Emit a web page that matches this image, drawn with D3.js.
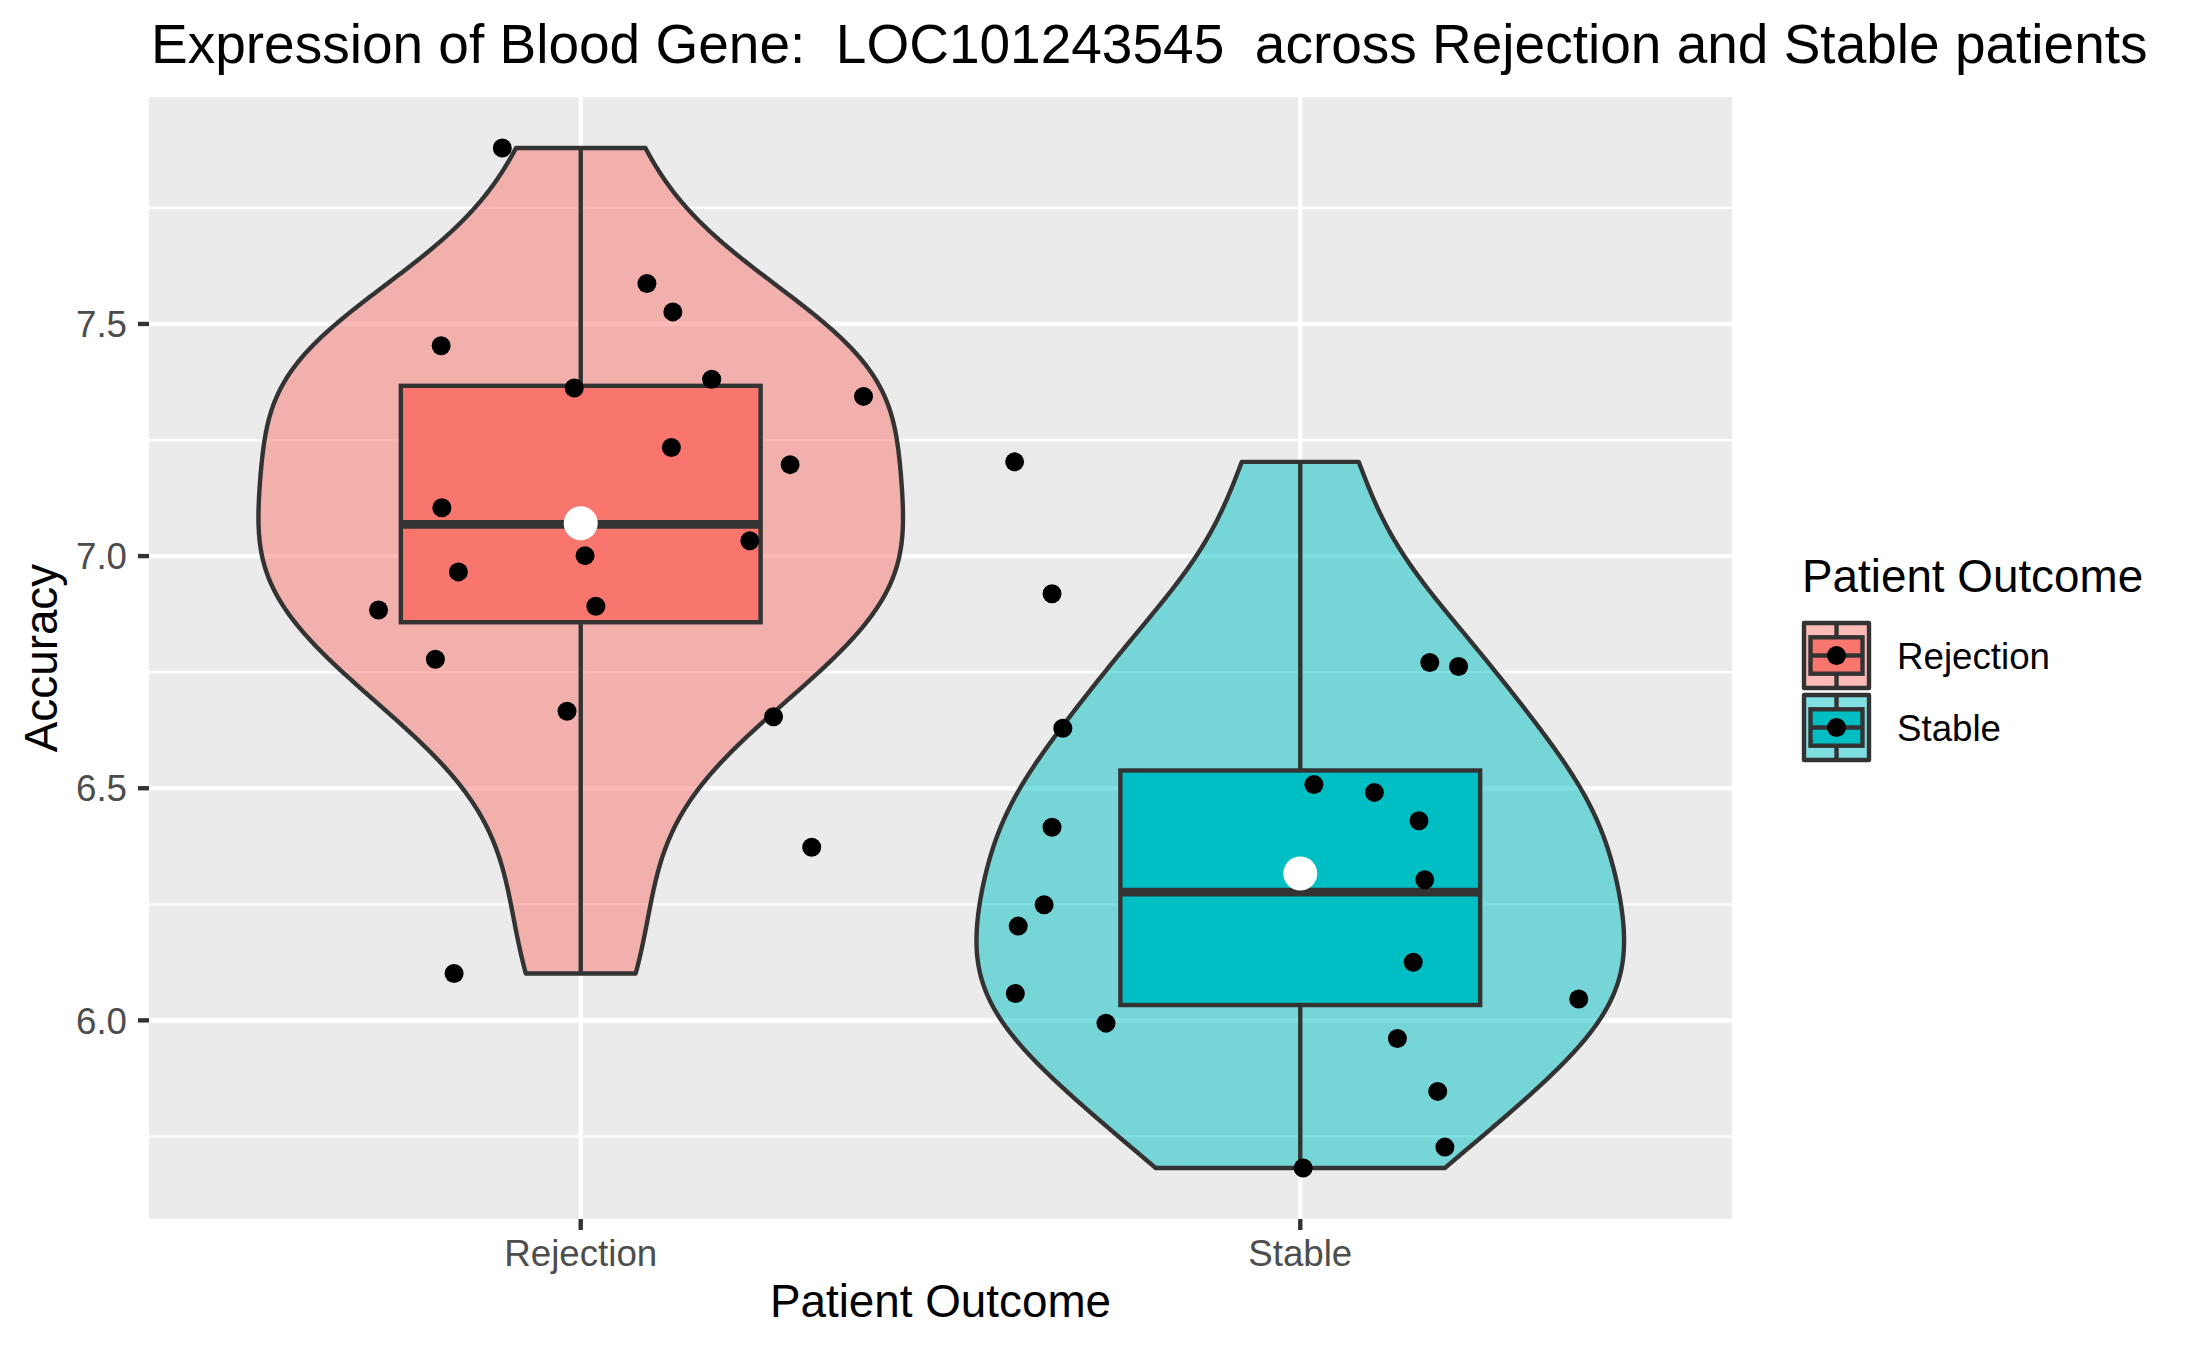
<!DOCTYPE html>
<html>
<head>
<meta charset="utf-8">
<script src="https://cdn.jsdelivr.net/npm/d3@7"></script>
<style>
  body { margin: 0; background: #fff; }
  text { font-family: "Liberation Sans", Arial, Helvetica, sans-serif; }
</style>
</head>
<body>
<svg id="chart" width="2187" height="1351"></svg>
<script>
const categories = ["Rejection", "Stable"]
const fills = ["#F8766D", "#00BFC4"]

// expression values
const rejectionValues = [7.879, 7.587, 7.526, 7.453, 7.362, 7.381, 7.344, 7.234, 7.197, 7.104,
  7.033, 7.001, 6.966, 6.892, 6.884, 6.778, 6.666, 6.654, 6.373, 6.101]
const stableValues = [7.203, 6.919, 6.771, 6.762, 6.629, 6.508, 6.491, 6.430, 6.416, 6.303,
  6.249, 6.203, 6.125, 6.058, 6.046, 5.994, 5.961, 5.847, 5.727, 5.682]

// horizontal jitter of each point (in category units)
const rejectionJitter = [-0.109, 0.092, 0.128, -0.194, -0.009, 0.182, 0.393, 0.126, 0.291, -0.193,
  0.235, 0.006, -0.170, 0.021, -0.281, -0.202, -0.019, 0.268, 0.321, -0.176]
const stableJitter = [-0.397, -0.345, 0.180, 0.220, -0.330, 0.019, 0.103, 0.165, -0.345, 0.173,
  -0.356, -0.392, 0.157, -0.396, 0.387, -0.270, 0.135, 0.191, 0.201, 0.004]

const yTicks = [6.0, 6.5, 7.0, 7.5]
const yMinorTicks = [5.75, 6.25, 6.75, 7.25, 7.75]

const groups = [
  { name: categories[0], values: rejectionValues, jitter: rejectionJitter, fill: fills[0] },
  { name: categories[1], values: stableValues, jitter: stableJitter, fill: fills[1] },
]

const svg = d3.select("#chart")
const panel = { left: 149, right: 1732, top: 97, bottom: 1219 }
const lw = 4.4 // ggplot linewidth 0.5 at 300 dpi
const dark = "#333333"

const allValues = groups.flatMap((g) => g.values)
const [vmin, vmax] = d3.extent(allValues)
const pad = (vmax - vmin) * 0.05

const x = d3.scalePoint().domain(categories).range([panel.left, panel.right]).padding(0.6)
const y = d3.scaleLinear().domain([vmin - pad, vmax + pad]).range([panel.bottom, panel.top])
const unit = x.step()

// panel + grid
svg.append("rect")
  .attr("x", panel.left).attr("y", panel.top)
  .attr("width", panel.right - panel.left).attr("height", panel.bottom - panel.top)
  .attr("fill", "#EBEBEB")

svg.selectAll(".minor").data(yMinorTicks).join("line")
  .attr("x1", panel.left).attr("x2", panel.right)
  .attr("y1", (d) => y(d)).attr("y2", (d) => y(d))
  .attr("stroke", "#fff").attr("stroke-width", lw / 2)
svg.selectAll(".major").data(yTicks).join("line")
  .attr("x1", panel.left).attr("x2", panel.right)
  .attr("y1", (d) => y(d)).attr("y2", (d) => y(d))
  .attr("stroke", "#fff").attr("stroke-width", lw)
svg.selectAll(".vmajor").data(categories).join("line")
  .attr("x1", (d) => x(d)).attr("x2", (d) => x(d))
  .attr("y1", panel.top).attr("y2", panel.bottom)
  .attr("stroke", "#fff").attr("stroke-width", lw)

// violin densities (gaussian kernel, bw.nrd0, trimmed to data range)
const bwNrd0 = (v) => {
  const s = v.slice().sort(d3.ascending)
  const iqr = d3.quantileSorted(s, 0.75) - d3.quantileSorted(s, 0.25)
  return 0.9 * Math.min(d3.deviation(s), iqr / 1.34) * Math.pow(s.length, -0.2)
}
groups.forEach((g) => {
  const bw = bwNrd0(g.values)
  const [lo, hi] = d3.extent(g.values)
  g.density = d3.range(512).map((i) => {
    const t = lo + (hi - lo) * i / 511
    const dens = d3.sum(g.values, (v) => Math.exp(-0.5 * ((t - v) / bw) ** 2)) /
      (g.values.length * bw * Math.sqrt(2 * Math.PI))
    return [t, dens]
  })
})
const maxDensity = d3.max(groups, (g) => d3.max(g.density, (d) => d[1]))

groups.forEach((g) => {
  const cx = x(g.name)
  const half = (d) => (d / maxDensity) * 0.45 * unit
  const pts = [
    ...g.density.map(([t, d]) => [cx - half(d), y(t)]),
    ...g.density.slice().reverse().map(([t, d]) => [cx + half(d), y(t)]),
  ]
  svg.append("path")
    .attr("d", d3.line()(pts) + "Z")
    .attr("fill", g.fill).attr("fill-opacity", 0.5)
    .attr("stroke", dark).attr("stroke-width", lw).attr("stroke-linejoin", "round")
})

// boxplots
groups.forEach((g) => {
  const cx = x(g.name)
  const s = g.values.slice().sort(d3.ascending)
  const q1 = d3.quantileSorted(s, 0.25), q3 = d3.quantileSorted(s, 0.75)
  const med = d3.quantileSorted(s, 0.5)
  const iqr = q3 - q1
  const lowW = d3.min(s.filter((v) => v >= q1 - 1.5 * iqr))
  const highW = d3.max(s.filter((v) => v <= q3 + 1.5 * iqr))
  const bw = 0.25 * unit
  svg.append("line").attr("x1", cx).attr("x2", cx).attr("y1", y(q3)).attr("y2", y(highW))
    .attr("stroke", dark).attr("stroke-width", lw)
  svg.append("line").attr("x1", cx).attr("x2", cx).attr("y1", y(q1)).attr("y2", y(lowW))
    .attr("stroke", dark).attr("stroke-width", lw)
  svg.append("rect")
    .attr("x", cx - bw).attr("width", 2 * bw)
    .attr("y", y(q3)).attr("height", y(q1) - y(q3))
    .attr("fill", g.fill).attr("stroke", dark).attr("stroke-width", lw)
  svg.append("line").attr("x1", cx - bw).attr("x2", cx + bw).attr("y1", y(med)).attr("y2", y(med))
    .attr("stroke", dark).attr("stroke-width", lw * 2)
})

// jittered points
groups.forEach((g) => {
  svg.append("g").selectAll("circle").data(g.values).join("circle")
    .attr("cx", (d, i) => x(g.name) + g.jitter[i] * unit)
    .attr("cy", (d) => y(d))
    .attr("r", 9.5)
    .attr("fill", "#000")
})

// group means
groups.forEach((g) => {
  svg.append("circle")
    .attr("cx", x(g.name)).attr("cy", y(d3.mean(g.values)))
    .attr("r", 17).attr("fill", "#fff")
})

// axes
svg.selectAll(".ytick").data(yTicks).join("line")
  .attr("x1", panel.left - 11).attr("x2", panel.left)
  .attr("y1", (d) => y(d)).attr("y2", (d) => y(d))
  .attr("stroke", dark).attr("stroke-width", lw)
svg.selectAll(".ylab").data(yTicks).join("text")
  .attr("x", 127).attr("y", (d) => y(d)).attr("dy", "0.36em")
  .attr("text-anchor", "end").attr("font-size", 36.7).attr("fill", "#4D4D4D")
  .text((d) => d3.format(".1f")(d))

svg.selectAll(".xtick").data(categories).join("line")
  .attr("x1", (d) => x(d)).attr("x2", (d) => x(d))
  .attr("y1", panel.bottom).attr("y2", panel.bottom + 11)
  .attr("stroke", dark).attr("stroke-width", lw)
svg.selectAll(".xlab").data(categories).join("text")
  .attr("x", (d) => x(d)).attr("y", 1266)
  .attr("text-anchor", "middle").attr("font-size", 36.7).attr("fill", "#4D4D4D")
  .text((d) => d)

svg.append("text")
  .attr("x", (panel.left + panel.right) / 2).attr("y", 1317)
  .attr("text-anchor", "middle").attr("font-size", 45.8).attr("fill", "#000")
  .text("Patient Outcome")
svg.append("text")
  .attr("transform", `translate(57, ${(panel.top + panel.bottom) / 2}) rotate(-90)`)
  .attr("text-anchor", "middle").attr("font-size", 45.8).attr("fill", "#000")
  .text("Accuracy")

svg.append("text")
  .attr("x", 151).attr("y", 63)
  .attr("font-size", 55).attr("fill", "#000")
  .attr("xml:space", "preserve").style("white-space", "pre")
  .text("Expression of Blood Gene:  LOC101243545  across Rejection and Stable patients")

// legend
const legend = svg.append("g")
legend.append("text")
  .attr("x", 1802).attr("y", 592)
  .attr("font-size", 45.8).attr("fill", "#000")
  .text("Patient Outcome")

groups.forEach((g, i) => {
  const k = 65
  const kx = 1804, ky = 623 + i * 72
  const key = legend.append("g")
  key.append("rect")
    .attr("x", kx).attr("y", ky).attr("width", k).attr("height", k)
    .attr("fill", g.fill).attr("fill-opacity", 0.5)
    .attr("stroke", dark).attr("stroke-width", lw).attr("stroke-linejoin", "round")
  key.append("line").attr("x1", kx + k / 2).attr("x2", kx + k / 2)
    .attr("y1", ky).attr("y2", ky + k).attr("stroke", dark).attr("stroke-width", lw)
  key.append("rect")
    .attr("x", kx + 0.1 * k).attr("y", ky + 0.22 * k)
    .attr("width", 0.8 * k).attr("height", 0.56 * k)
    .attr("fill", g.fill).attr("stroke", dark).attr("stroke-width", lw)
  key.append("line").attr("x1", kx + 0.1 * k).attr("x2", kx + 0.9 * k)
    .attr("y1", ky + k / 2).attr("y2", ky + k / 2).attr("stroke", dark).attr("stroke-width", lw)
  key.append("circle").attr("cx", kx + k / 2).attr("cy", ky + k / 2).attr("r", 9.5).attr("fill", "#000")
  legend.append("text")
    .attr("x", 1897).attr("y", ky + k / 2).attr("dy", "0.36em")
    .attr("font-size", 36.7).attr("fill", "#000")
    .text(g.name)
})
</script>
</body>
</html>
